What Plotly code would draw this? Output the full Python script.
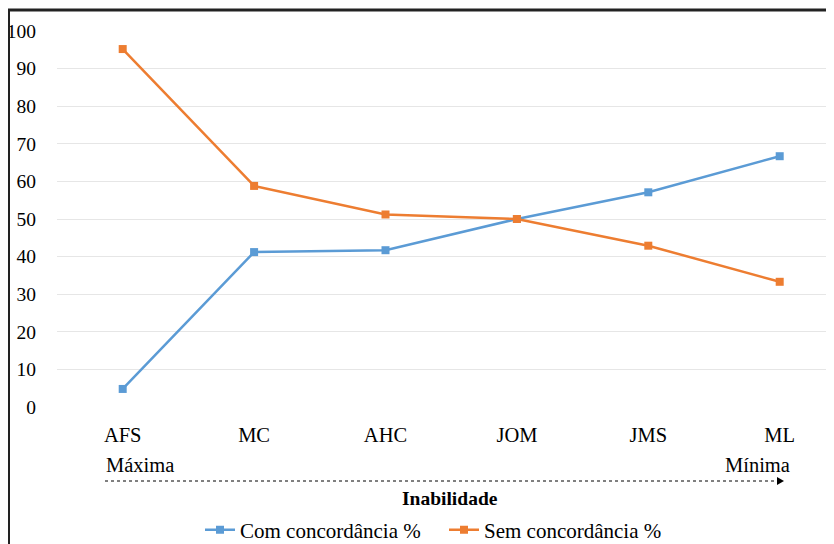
import plotly.graph_objects as go

categories = ["AFS", "MC", "AHC", "JOM", "JMS", "ML"]
com_concordancia = [4.8, 41.2, 41.7, 50.0, 57.1, 66.7]
sem_concordancia = [95.2, 58.8, 51.2, 50.0, 42.9, 33.3]
y_ticks = [0, 10, 20, 30, 40, 50, 60, 70, 80, 90, 100]

BLUE = "#5B9BD5"
ORANGE = "#ED7D31"
FONT = "Liberation Serif"

# the page body has an 8px margin, so the figure is drawn 8px in from the top-left
OFF = 8
FW, FH = 834 - OFF, 544 - OFF

# plot area in reference-screen pixels: x 57..(beyond right edge), y 31..407
L, R, T, B = 57 - OFF, FW, 31 - OFF, 407 - OFF
W, H = R - L, B - T
def px(x):  # reference screen x -> paper
    return (x - OFF - L) / W
def py(y):  # reference screen y -> paper
    return (B - (y - OFF)) / H

fig = go.Figure()
fig.add_trace(go.Scatter(
    x=categories, y=com_concordancia, name="Com concordância %",
    mode="lines+markers", line=dict(color=BLUE, width=2.5),
    marker=dict(symbol="square", size=8, color=BLUE),
))
fig.add_trace(go.Scatter(
    x=categories, y=sem_concordancia, name="Sem concordância %",
    mode="lines+markers", line=dict(color=ORANGE, width=2.5),
    marker=dict(symbol="square", size=8, color=ORANGE),
))

fig.update_layout(
    width=FW, height=FH,
    margin=dict(l=L, r=FW - R, t=T, b=FH - B, pad=0, autoexpand=False),
    paper_bgcolor="white", plot_bgcolor="white",
    font=dict(family=FONT, size=20, color="black"),
    showlegend=True,
    legend=dict(
        orientation="h", x=px(200), xanchor="left", y=py(530), yanchor="middle",
        font=dict(family=FONT, size=21, color="black"),
        itemwidth=30, bgcolor="rgba(0,0,0,0)",
        entrywidth=199, entrywidthmode="pixels",
    ),
    xaxis=dict(
        type="category", categoryorder="array", categoryarray=categories,
        range=[-0.5, -0.5 + W / 131.4],
        showgrid=False, zeroline=False, showline=False, ticks="",
        ticklabelstandoff=13,
        tickfont=dict(family=FONT, size=20.5, color="black"),
    ),
    yaxis=dict(
        range=[0, 100], tickvals=y_ticks,
        showgrid=True, gridcolor="#E6E6E6", gridwidth=1,
        zeroline=False, showline=False, ticks="",
        ticklabelstandoff=20,
        tickfont=dict(family=FONT, size=19.5, color="black"),
    ),
)

# outer frame (left and top edges visible)
fig.add_shape(type="line", xref="paper", yref="paper",
              x0=px(8.5), y0=py(560), x1=px(8.5), y1=py(10),
              line=dict(color="#222222", width=3))
fig.add_shape(type="line", xref="paper", yref="paper",
              x0=px(7), y0=py(10), x1=px(850), y1=py(10),
              line=dict(color="#222222", width=3))

# dotted arrow
fig.add_shape(type="line", xref="paper", yref="paper",
              x0=px(105), y0=py(481), x1=px(778), y1=py(481),
              line=dict(color="black", width=1, dash="dot"))
fig.add_shape(type="path", xref="paper", yref="paper",
              path=f"M {px(777)} {py(477)} L {px(784)} {py(481)} L {px(777)} {py(485)} Z",
              fillcolor="black", line=dict(color="black", width=0))

fig.add_annotation(text="Máxima", xref="paper", yref="paper", x=px(104), y=py(465),
                   xanchor="left", yanchor="middle", showarrow=False,
                   font=dict(family=FONT, size=20.5, color="black"))
fig.add_annotation(text="Mínima", xref="paper", yref="paper", x=px(792), y=py(465),
                   xanchor="right", yanchor="middle", showarrow=False,
                   font=dict(family=FONT, size=20.5, color="black"))
fig.add_annotation(text="<b>Inabilidade</b>", xref="paper", yref="paper", x=px(450), y=py(498),
                   xanchor="center", yanchor="middle", showarrow=False,
                   font=dict(family=FONT, size=19.5, color="black"))

fig.write_html("out.html")
